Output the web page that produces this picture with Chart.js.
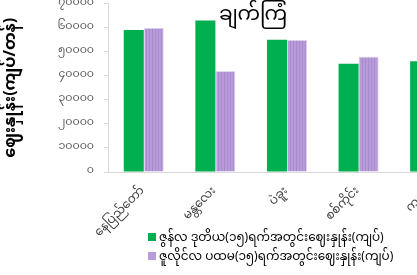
<!DOCTYPE html>
<html>
<head>
<meta charset="utf-8">
<script src="https://cdn.jsdelivr.net/npm/chart.js@4.4.0/dist/chart.umd.min.js"></script>
<style>
  body { margin: 0; width: 417px; height: 275px; overflow: hidden; position: relative; background: #fff;
         font-family: "Noto Sans Myanmar", "Padauk", "Myanmar Text", "Noto Sans", sans-serif; }
  #wrap { position: absolute; left: 0; top: -13px; width: 466px; height: 288px; }
  #title { position: absolute; top: -6px; left: 193px; width: 120px; text-align: center; font-size: 20px; color: #000; }
  #legend { position: absolute; left: 148px; top: 229px; font-size: 12px; color: #000; }
  #legend div { height: 19px; line-height: 19px; white-space: nowrap; }
  #legend span { display: inline-block; width: 8px; height: 8px; margin-right: 3px; }
</style>
</head>
<body>
<div id="wrap"><canvas id="grafico" width="466" height="288"></canvas></div>
<div id="title"></div>
<div id="legend"></div>
<script>
// Dados do gráfico
const tituloGrafico = "ချက်ကြံ";
const tituloEixoY = "ဈေးနှုန်း(ကျပ်/တန်)";
const regioes = ["နေပြည်တော်", "မန္တလေး", "ပဲခူး", "စစ်ကိုင်း", "ကရင်"];
const precoJunho = [59000, 63000, 55000, 45000, 46000];
const precoJulho = [60000, 42000, 55000, 48000, null];
const rotuloJunho = "ဇွန်လ ဒုတိယ(၁၅)ရက်အတွင်းဈေးနှုန်း(ကျပ်)";
const rotuloJulho = "ဇူလိုင်လ ပထမ(၁၅)ရက်အတွင်းဈေးနှုန်း(ကျပ်)";
const ticksY = ["၀", "၁၀၀၀၀", "၂၀၀၀၀", "၃၀၀၀၀", "၄၀၀၀၀", "၅၀၀၀၀", "၆၀၀၀၀", "၇၀၀၀၀"];

const fonte = "'Noto Sans Myanmar', 'Padauk', 'Myanmar Text', 'Noto Sans', sans-serif";

// Padrão listrado das barras roxas
function criarListras() {
  const c = document.createElement("canvas");
  c.width = 3;
  c.height = 4;
  const g = c.getContext("2d");
  g.fillStyle = "#b89cda";
  g.fillRect(0, 0, 3, 4);
  g.fillStyle = "#a98acd";
  g.fillRect(2, 0, 1, 4);
  return g.createPattern(c, "repeat");
}
const listras = criarListras();

const ctx = document.getElementById("grafico").getContext("2d");

const config = {
  type: "bar",
  data: {
    labels: regioes,
    datasets: [
      {
        label: rotuloJunho,
        data: precoJunho,
        backgroundColor: "#00b050",
        legendColor: "#00b050",
        borderWidth: 0,
      },
      {
        label: rotuloJulho,
        data: precoJulho,
        backgroundColor: listras,
        legendColor: "#b89cda",
        borderColor: "#e3d6f2",
        borderWidth: 1,
      },
    ],
  },
  options: {
    responsive: false,
    animation: false,
    layout: { padding: 0 },
    datasets: {
      bar: { categoryPercentage: 0.56, barPercentage: 1.0 },
    },
    scales: {
      x: {
        grid: { display: false },
        border: { display: true, color: "#d9d9d9", width: 1 },
        ticks: {
          color: "#404040",
          font: { family: fonte, size: 12 },
          minRotation: 45,
          maxRotation: 45,
          padding: 5,
        },
        afterFit: (s) => { s.height = 103; },
      },
      y: {
        min: 0,
        max: 70000,
        ticks: {
          stepSize: 10000,
          color: "#595959",
          font: { family: fonte, size: 11 },
          padding: 10,
          callback: (v, i) => ticksY[i],
        },
        grid: { drawOnChartArea: false, tickLength: 4, color: "#d9d9d9" },
        border: { display: true, color: "#d9d9d9", width: 1 },
        title: {
          display: true,
          text: tituloEixoY,
          color: "#000",
          font: { family: fonte, size: 16, weight: "bold" },
          padding: { top: 4, bottom: 0 },
        },
        afterFit: (s) => { s.width = 108; },
      },
    },
    plugins: {
      legend: { display: false },
      title: { display: false },
      tooltip: { enabled: false },
    },
  },
};

const chart = new Chart(ctx, config);

// Título e legenda em HTML
document.getElementById("title").textContent = tituloGrafico;
const legenda = document.getElementById("legend");
chart.data.datasets.forEach((ds) => {
  const linha = document.createElement("div");
  const caixa = document.createElement("span");
  caixa.style.background = ds.legendColor;
  linha.appendChild(caixa);
  linha.appendChild(document.createTextNode(ds.label));
  legenda.appendChild(linha);
});
</script>
</body>
</html>
